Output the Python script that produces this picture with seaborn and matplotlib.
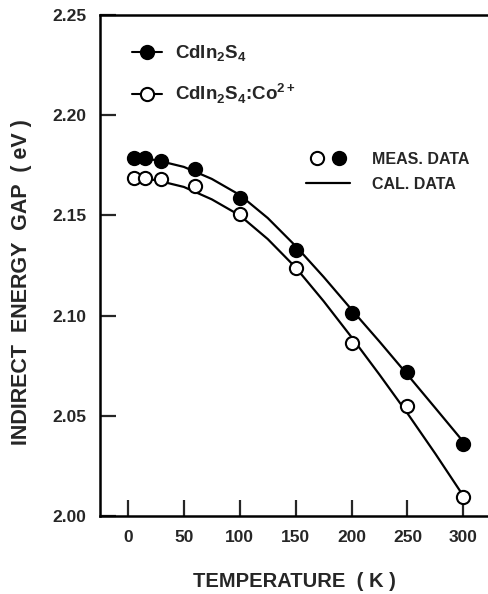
import matplotlib
matplotlib.use("Agg")
import matplotlib.pyplot as plt
from matplotlib.lines import Line2D
from matplotlib.legend_handler import HandlerTuple
import seaborn as sns
import pandas as pd

# measured data
temp_meas = [5, 15, 30, 60, 100, 150, 200, 250, 300]
gap_pure = [2.1785, 2.1785, 2.177, 2.173, 2.1585, 2.1325, 2.1015, 2.072, 2.036]
gap_co = [2.1685, 2.1685, 2.168, 2.1645, 2.1505, 2.124, 2.0865, 2.055, 2.0095]

# calculated curves
temp_cal = [5, 25, 50, 75, 100, 125, 150, 175, 200, 225, 250, 275, 300]
cal_pure = [2.1790, 2.1776, 2.1742, 2.1682, 2.1602, 2.1487, 2.1347, 2.1193, 2.1030,
            2.0870, 2.0705, 2.0538, 2.0370]
cal_co = [2.1690, 2.1676, 2.1642, 2.1580, 2.1500, 2.1382, 2.1240, 2.1072, 2.0892,
          2.0705, 2.0512, 2.0310, 2.0100]

x_ticks = [0, 50, 100, 150, 200, 250, 300]
y_ticks = [2.00, 2.05, 2.10, 2.15, 2.20, 2.25]
y_tick_labels = ["2.00", "2.05", "2.10", "2.15", "2.20", "2.25"]

sns.set_style("ticks")
plt.rcParams["font.family"] = ["Liberation Sans", "DejaVu Sans"]
plt.rcParams["font.weight"] = "bold"
plt.rcParams["mathtext.fontset"] = "custom"
plt.rcParams["mathtext.bf"] = "Liberation Sans:bold"
plt.rcParams["mathtext.rm"] = "Liberation Sans:bold"

fig = plt.figure(figsize=(4.89, 5.94), dpi=100)
ax = fig.add_axes([100 / 489, 1 - 516 / 594, 388 / 489, 501 / 594])

df_cal = pd.DataFrame({"T": temp_cal + temp_cal,
                       "E": cal_pure + cal_co,
                       "s": ["pure"] * len(temp_cal) + ["co"] * len(temp_cal)})
sns.lineplot(data=df_cal, x="T", y="E", units="s", estimator=None, color="black",
             lw=1.6, ax=ax, legend=False)

ms = 9.5
ax.plot(temp_meas, gap_pure, ls="none", marker="o", ms=ms, mfc="black", mec="black",
        mew=1.5, zorder=3)
ax.plot(temp_meas, gap_co, ls="none", marker="o", ms=ms, mfc="white", mec="black",
        mew=1.5, zorder=3)

ax.set_xlim(-25, 322)
ax.set_ylim(2.0, 2.25)
ax.set_xticks(x_ticks)
ax.set_yticks(y_ticks)
ax.set_yticklabels(y_tick_labels)
ax.tick_params(direction="in", length=11.5, width=1.6, labelsize=12.5, pad=10)
for lab in ax.get_xticklabels() + ax.get_yticklabels():
    lab.set_fontweight("bold")

for side in ["left", "bottom", "top"]:
    ax.spines[side].set_linewidth(1.8)
    ax.spines[side].set_color("black")
ax.spines["right"].set_linewidth(0.6)
ax.spines["right"].set_color("#bbbbbb")

ax.set_xlabel("TEMPERATURE  ( K )", fontsize=14.5, fontweight="bold")
ax.set_ylabel("INDIRECT  ENERGY  GAP  ( eV )", fontsize=15.5, fontweight="bold")
ax.xaxis.set_label_coords(0.50, -0.112)
ax.yaxis.set_label_coords(-0.175, 0.467)

h1 = Line2D([], [], color="black", lw=1.5, marker="o", ms=ms, mfc="black", mec="black", mew=1.5)
h2 = Line2D([], [], color="black", lw=1.5, marker="o", ms=ms, mfc="white", mec="black", mew=1.5)
leg1 = ax.legend([h1, h2], [r"CdIn$_\mathbf{2}$S$_\mathbf{4}$",
                            r"CdIn$_\mathbf{2}$S$_\mathbf{4}$:Co$^\mathbf{2+}$"],
                 loc="upper left", bbox_to_anchor=(0.082, 0.943), frameon=False,
                 borderpad=0, borderaxespad=0, handlelength=1.6, handletextpad=0.7,
                 labelspacing=0.95, prop={"size": 13.5, "weight": "bold"})
ax.add_artist(leg1)

m_open = Line2D([], [], ls="none", marker="o", ms=ms, mfc="white", mec="black", mew=1.5)
m_fill = Line2D([], [], ls="none", marker="o", ms=ms, mfc="black", mec="black", mew=1.5)
l_cal = Line2D([], [], color="black", lw=1.6)
leg2 = ax.legend([(m_open, m_fill), l_cal], ["MEAS. DATA", "CAL. DATA"],
                 handler_map={tuple: HandlerTuple(ndivide=None, pad=0)},
                 loc="upper left", bbox_to_anchor=((306 - 100) / 388, (516 - 152) / 501),
                 frameon=False, borderpad=0, borderaxespad=0, handlelength=2.75,
                 handletextpad=1.4, labelspacing=0.6, prop={"size": 11.5, "weight": "bold"})

fig.savefig("out.png", dpi=100)
